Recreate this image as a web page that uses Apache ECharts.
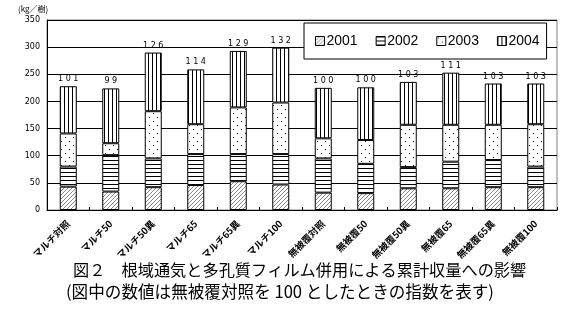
<!DOCTYPE html>
<html><head><meta charset="utf-8">
<script src="https://cdn.jsdelivr.net/npm/echarts@6/dist/echarts.min.js"></script>
<style>html,body{margin:0;padding:0;background:#fff}#c{width:567px;height:320px}</style>
</head><body><div id="c"></div>
<script>
const categories = ['マルチ対照','マルチ50','マルチ50異','マルチ65','マルチ65異','マルチ100','無被覆対照','無被覆50','無被覆50異','無被覆65','無被覆65異','無被覆100'];
const y2001 = [43,34,42,46,53,47,32,31,40,40,42,42];
const y2002 = [37,67,53,57,50,56,63,54,39,49,50,38];
const y2003 = [61,22,87,55,86,95,37,44,78,68,65,78];
const y2004 = [87,101,108,101,104,101,93,97,79,96,76,75];
const indexLabels = [101,99,126,114,129,132,100,100,103,111,103,103];
const yTicks = [0,50,100,150,200,250,300,350];

function tile(w,h,draw){const c=document.createElement('canvas');c.width=w;c.height=h;const g=c.getContext('2d');g.fillStyle='#fff';g.fillRect(0,0,w,h);draw(g);return {image:c,repeat:'repeat'};}
const pDiag = tile(4,4,g=>{g.fillStyle='#8a8a8a';for(let i=0;i<4;i++){g.fillRect(3-i,i,1,1);}});
const pHoriz = tile(4,4,g=>{g.fillStyle='#000';g.fillRect(0,0,4,1);});
const pDots = tile(8,8,g=>{g.fillStyle='#000';g.fillRect(1,1,1,1);g.fillRect(5,5,1,1);});
const pVert = tile(4,4,g=>{g.fillStyle='#000';g.fillRect(0,0,1,4);});

const chart = echarts.init(document.getElementById('c'),null,{renderer:'canvas'});
const mk = (name,data,pat,extra)=>Object.assign({name,type:'bar',stack:'t',data,barWidth:17,
  itemStyle:{color:pat,borderColor:'#000',borderWidth:1},emphasis:{disabled:true}},extra||{});
chart.setOption({
  animation:false,
  textStyle:{fontFamily:'"Noto Sans CJK JP", sans-serif'},
  grid:{left:47,right:10,top:20,bottom:110,show:true,borderColor:'#808080',borderWidth:1,containLabel:false},
  legend:{left:304,top:23,width:255,icon:'rect',itemWidth:9,itemHeight:9,itemGap:18,padding:[11,7,11,11],
    backgroundColor:'#fff',borderColor:'#000',borderWidth:1,
    itemStyle:{borderWidth:1,borderColor:'#000'},
    textStyle:{fontFamily:'"Liberation Sans", Arial, sans-serif',fontSize:14,color:'#000',padding:[0,0,0,-3]},
    data:['2001','2002','2003','2004']},
  xAxis:{type:'category',data:categories,
    axisLine:{lineStyle:{color:'#000'}},
    axisTick:{show:true,inside:true,length:3,lineStyle:{color:'#000'}},
    axisLabel:{rotate:45,fontSize:9.5,color:'#000',margin:12,fontWeight:'bold'}},
  yAxis:{type:'value',min:0,max:350,interval:50,
    axisLine:{show:true,lineStyle:{color:'#000'}},
    axisTick:{show:false},
    splitLine:{lineStyle:{color:'#000',width:1}},
    axisLabel:{fontSize:8,color:'#000',margin:7,fontFamily:'"DejaVu Sans", sans-serif'}},
  graphic:[
    {type:'text',left:18,top:5,style:{text:'(kg／樹)',fontSize:8,fill:'#000',fontFamily:'"Noto Sans CJK JP"'}},
    {type:'text',left:73,top:262,style:{text:'図２　根域通気と多孔質フィルム併用による累計収量への影響',fontSize:16.2,fill:'#000',fontFamily:'"Noto Sans CJK JP"'}},
    {type:'text',left:66,top:283,style:{text:'(図中の数値は無被覆対照を 100 としたときの指数を表す)',fontSize:16.6,fill:'#000',fontFamily:'"Noto Sans CJK JP"'}}
  ],
  series:[
    mk('2001',y2001,pDiag),
    mk('2002',y2002,pHoriz),
    mk('2003',y2003,pDots),
    mk('2004',y2004,pVert,{label:{show:true,position:'top',distance:3,fontSize:8,color:'#000',
      fontFamily:'"DejaVu Sans", sans-serif',formatter:p=>String(indexLabels[p.dataIndex]).split('').join(' ')}})
  ]
});
</script></body></html>
